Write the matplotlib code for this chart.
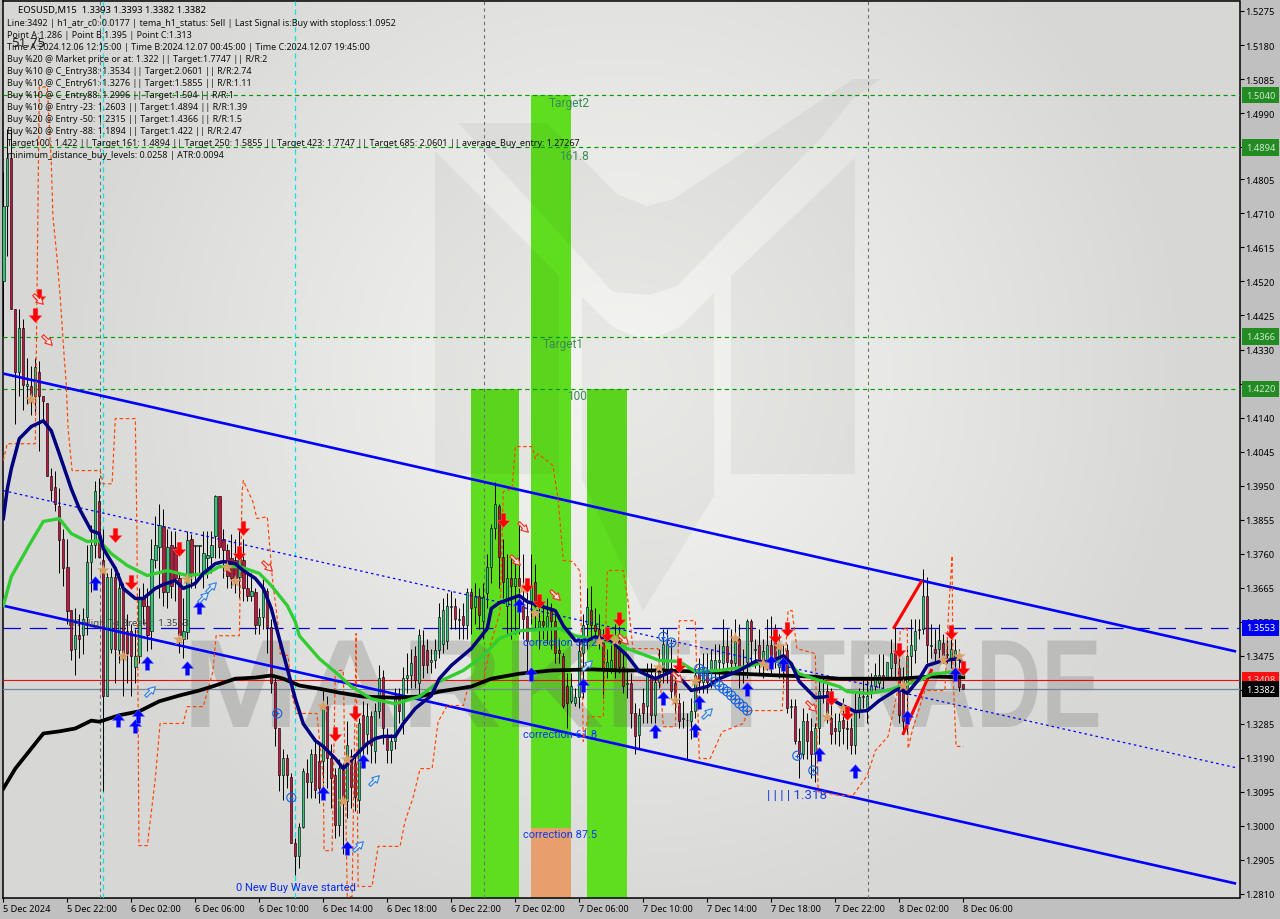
import numpy as np
import matplotlib
matplotlib.use("Agg")
import matplotlib.pyplot as plt
import matplotlib.patheffects as pe
from matplotlib.path import Path
from matplotlib.patches import Polygon, Rectangle
from matplotlib.transforms import Affine2D, blended_transform_factory

plt.rcParams['font.family'] = ['Noto Sans', 'DejaVu Sans']

# candles, one per 15 min bar
opens = [1.4522,1.4731,1.4865,1.4444,1.4268,1.4391,1.4229,1.4229,1.4201,1.4268,
         1.4201,1.4182,1.3978,1.3945,1.3892,1.3802,1.3724,1.3602,1.3493,1.3532,
         1.3532,1.3582,1.3738,1.3783,1.3908,1.3741,1.3364,1.3495,1.3696,1.3490,
         1.3663,1.3543,1.3543,1.3445,1.3473,1.3635,1.3613,1.3543,1.3741,1.3780,
         1.3836,1.3654,1.3783,1.3780,1.3691,1.3523,1.3540,1.3800,1.3781,1.3781,
         1.3710,1.3749,1.3752,1.3808,1.3922,1.3802,1.3769,1.3747,1.3741,1.3696,
         1.3741,1.3663,1.3641,1.3654,1.3560,1.3582,1.3657,1.3554,1.3401,1.3272,
         1.3141,1.3191,1.3136,1.2951,1.2915,1.2998,1.3147,1.3122,1.3202,1.3180,
         1.3180,1.3336,1.3191,1.3141,1.3002,1.3155,1.3069,1.3194,1.3175,1.3071,
         1.3309,1.3258,1.3306,1.3208,1.3322,1.3415,1.3253,1.3211,1.3236,1.3356,
         1.3295,1.3412,1.3420,1.3473,1.3398,1.3504,1.3490,1.3459,1.3462,1.3490,
         1.3509,1.3515,1.3610,1.3613,1.3576,1.3585,1.3560,1.3652,1.3610,1.3641,
         1.3571,1.3649,1.3724,1.3833,1.3894,1.3752,1.3613,1.3693,1.3671,1.3693,
         1.3615,1.3585,1.3627,1.3682,1.3551,1.3571,1.3551,1.3599,1.3571,1.3490,
         1.3473,1.3392,1.3350,1.3342,1.3361,1.3482,1.3565,1.3602,1.3560,1.3549,
         1.3515,1.3440,1.3442,1.3515,1.3515,1.3445,1.3395,1.3398,1.3314,1.3253,
         1.3342,1.3334,1.3420,1.3311,1.3403,1.3440,1.3434,1.3440,1.3398,1.3342,
         1.3298,1.3295,1.3292,1.3322,1.3440,1.3401,1.3434,1.3434,1.3434,1.3459,
         1.3456,1.3501,1.3462,1.3454,1.3523,1.3440,1.3459,1.3571,1.3490,1.3504,
         1.3448,1.3459,1.3504,1.3532,1.3445,1.3468,1.3490,1.3331,1.3334,1.3236,
         1.3202,1.3292,1.3264,1.3202,1.3272,1.3376,1.3378,1.3300,1.3272,1.3264,
         1.3295,1.3272,1.3272,1.3225,1.3322,1.3361,1.3322,1.3378,1.3392,1.3398,
         1.3420,1.3412,1.3440,1.3482,1.3440,1.3417,1.3375,1.3473,1.3490,1.3551,
         1.3551,1.3642,1.3501,1.3495,1.3495,1.3512,1.3476,1.3468,1.3462,1.3431,1.3395]
closes = [1.4731,1.4865,1.4444,1.4268,1.4391,1.4232,1.4235,1.4201,1.4282,1.4201,
          1.4187,1.3978,1.3939,1.3900,1.3797,1.3721,1.3599,1.3490,1.3532,1.3523,
          1.3579,1.3738,1.3783,1.3934,1.3752,1.3364,1.3696,1.3696,1.3493,1.3663,
          1.3476,1.3482,1.3473,1.3473,1.3635,1.3613,1.3532,1.3744,1.3783,1.3841,
          1.3654,1.3780,1.3671,1.3691,1.3532,1.3543,1.3797,1.3705,1.3784,1.3784,
          1.3761,1.3755,1.3783,1.3920,1.3780,1.3769,1.3699,1.3691,1.3691,1.3747,
          1.3663,1.3641,1.3657,1.3560,1.3582,1.3663,1.3554,1.3398,1.3272,1.3141,
          1.3191,1.3141,1.2951,1.2915,1.2998,1.3152,1.3122,1.3202,1.3099,1.3105,
          1.3328,1.3191,1.3133,1.3002,1.3161,1.3069,1.3225,1.3110,1.3082,1.3286,
          1.3225,1.3306,1.3225,1.3322,1.3412,1.3272,1.3211,1.3236,1.3356,1.3320,
          1.3412,1.3420,1.3454,1.3406,1.3532,1.3448,1.3448,1.3462,1.3490,1.3582,
          1.3602,1.3615,1.3613,1.3579,1.3579,1.3560,1.3652,1.3607,1.3641,1.3590,
          1.3638,1.3724,1.3833,1.3900,1.3752,1.3682,1.3691,1.3671,1.3693,1.3671,
          1.3579,1.3515,1.3671,1.3615,1.3571,1.3560,1.3587,1.3571,1.3482,1.3482,
          1.3336,1.3342,1.3392,1.3361,1.3487,1.3560,1.3610,1.3560,1.3543,1.3529,
          1.3442,1.3459,1.3462,1.3442,1.3445,1.3392,1.3398,1.3314,1.3250,1.3309,
          1.3314,1.3420,1.3311,1.3403,1.3448,1.3509,1.3509,1.3376,1.3342,1.3292,
          1.3300,1.3297,1.3322,1.3420,1.3401,1.3445,1.3403,1.3462,1.3462,1.3462,
          1.3501,1.3459,1.3454,1.3515,1.3440,1.3442,1.3571,1.3515,1.3495,1.3462,
          1.3487,1.3504,1.3445,1.3468,1.3504,1.3434,1.3328,1.3334,1.3236,1.3202,
          1.3292,1.3236,1.3202,1.3272,1.3378,1.3378,1.3314,1.3258,1.3266,1.3292,
          1.3272,1.3270,1.3225,1.3322,1.3361,1.3364,1.3364,1.3392,1.3420,1.3420,
          1.3412,1.3459,1.3484,1.3454,1.3309,1.3292,1.3473,1.3504,1.3543,1.3548,
          1.3642,1.3504,1.3504,1.3482,1.3518,1.3476,1.3481,1.3495,1.3490,1.3389,1.3382]
highs = [1.4826,1.4946,1.4946,1.4444,1.4444,1.4416,1.4305,1.4285,1.4305,1.4299,
         1.4201,1.4182,1.3998,1.3992,1.3942,1.3830,1.3802,1.3602,1.3607,1.3593,
         1.3607,1.3783,1.3839,1.3964,1.3970,1.3830,1.3705,1.3719,1.3705,1.3705,
         1.3677,1.3593,1.3565,1.3551,1.3663,1.3677,1.3663,1.3802,1.3864,1.3900,
         1.3886,1.3830,1.3822,1.3822,1.3710,1.3635,1.3822,1.3816,1.3784,1.3784,
         1.3822,1.3822,1.3822,1.3925,1.3922,1.3830,1.3788,1.3816,1.3802,1.3830,
         1.3802,1.3705,1.3705,1.3663,1.3607,1.3696,1.3663,1.3579,1.3412,1.3272,
         1.3216,1.3202,1.3147,1.2965,1.3007,1.3161,1.3188,1.3216,1.3239,1.3230,
         1.3378,1.3364,1.3230,1.3161,1.3188,1.3175,1.3292,1.3216,1.3202,1.3300,
         1.3348,1.3342,1.3322,1.3342,1.3448,1.3434,1.3272,1.3258,1.3384,1.3384,
         1.3445,1.3482,1.3495,1.3501,1.3551,1.3546,1.3523,1.3495,1.3523,1.3621,
         1.3635,1.3649,1.3657,1.3635,1.3607,1.3621,1.3663,1.3663,1.3677,1.3663,
         1.3677,1.3760,1.3844,1.3961,1.3900,1.3802,1.3760,1.3747,1.3747,1.3850,
         1.3760,1.3691,1.3760,1.3732,1.3635,1.3621,1.3635,1.3621,1.3593,1.3523,
         1.3482,1.3426,1.3426,1.3384,1.3523,1.3593,1.3663,1.3671,1.3607,1.3593,
         1.3551,1.3495,1.3523,1.3565,1.3565,1.3482,1.3440,1.3426,1.3342,1.3328,
         1.3384,1.3454,1.3454,1.3440,1.3495,1.3551,1.3551,1.3523,1.3426,1.3370,
         1.3348,1.3314,1.3356,1.3440,1.3468,1.3482,1.3482,1.3495,1.3509,1.3509,
         1.3579,1.3551,1.3551,1.3579,1.3565,1.3495,1.3579,1.3579,1.3523,1.3551,
         1.3523,1.3579,1.3585,1.3565,1.3537,1.3509,1.3509,1.3355,1.3355,1.3272,
         1.3328,1.3314,1.3300,1.3286,1.3412,1.3412,1.3398,1.3384,1.3314,1.3314,
         1.3356,1.3300,1.3300,1.3370,1.3384,1.3412,1.3412,1.3426,1.3454,1.3481,
         1.3481,1.3459,1.3523,1.3557,1.3468,1.3445,1.3495,1.3579,1.3579,1.3579,
         1.3717,1.3696,1.3565,1.3551,1.3565,1.3537,1.3523,1.3523,1.3523,1.3495,1.3395]
lows = [1.4369,1.4592,1.4444,1.4123,1.4201,1.4160,1.4179,1.4146,1.4146,1.4048,
        1.4129,1.3978,1.3906,1.3878,1.3705,1.3671,1.3565,1.3462,1.3420,1.3468,
        1.3479,1.3532,1.3654,1.3747,1.3747,1.3097,1.3364,1.3482,1.3398,1.3454,
        1.3364,1.3398,1.3364,1.3398,1.3454,1.3565,1.3487,1.3495,1.3719,1.3635,
        1.3615,1.3607,1.3635,1.3627,1.3482,1.3468,1.3523,1.3663,1.3663,1.3691,
        1.3663,1.3691,1.3705,1.3747,1.3747,1.3691,1.3663,1.3663,1.3649,1.3635,
        1.3627,1.3627,1.3627,1.3537,1.3537,1.3551,1.3482,1.3370,1.3222,1.3097,
        1.3071,1.3105,1.2951,1.2862,1.2882,1.2993,1.3077,1.3077,1.3077,1.3063,
        1.3119,1.3105,1.3049,1.2965,1.2971,1.2923,1.3021,1.3049,1.3041,1.3035,
        1.3161,1.3202,1.3175,1.3175,1.3300,1.3230,1.3175,1.3175,1.3216,1.3286,
        1.3258,1.3370,1.3384,1.3384,1.3356,1.3412,1.3426,1.3426,1.3440,1.3468,
        1.3482,1.3495,1.3551,1.3551,1.3523,1.3523,1.3523,1.3537,1.3565,1.3551,
        1.3523,1.3607,1.3677,1.3802,1.3663,1.3635,1.3537,1.3523,1.3537,1.3537,
        1.3523,1.3431,1.3565,1.3551,1.3495,1.3523,1.3509,1.3495,1.3454,1.3454,
        1.3328,1.3272,1.3342,1.3334,1.3328,1.3356,1.3495,1.3523,1.3523,1.3495,
        1.3356,1.3412,1.3426,1.3412,1.3426,1.3370,1.3356,1.3272,1.3202,1.3216,
        1.3286,1.3286,1.3286,1.3286,1.3384,1.3398,1.3398,1.3356,1.3314,1.3272,
        1.3272,1.3186,1.3244,1.3300,1.3370,1.3370,1.3370,1.3384,1.3398,1.3412,
        1.3426,1.3440,1.3426,1.3440,1.3384,1.3398,1.3412,1.3454,1.3440,1.3426,
        1.3412,1.3434,1.3426,1.3440,1.3412,1.3398,1.3314,1.3300,1.3230,1.3133,
        1.3188,1.3188,1.3133,1.3124,1.3230,1.3342,1.3286,1.3230,1.3230,1.3222,
        1.3230,1.3216,1.3202,1.3202,1.3300,1.3328,1.3286,1.3356,1.3370,1.3384,
        1.3384,1.3412,1.3412,1.3412,1.3286,1.3258,1.3258,1.3412,1.3454,1.3523,
        1.3537,1.3454,1.3468,1.3454,1.3468,1.3454,1.3454,1.3440,1.3426,1.3378,1.3382]

# slow and fast moving averages, read at these bars
navy_bars = [0,1,2,4,7,10,12,14,17,19,22,24,25,28,30,33,35,38,40,43,45,48,50,53,55,58,60,63,65,67,69,71,73,75,78,80,83,85,88,91,93,95,98,100,103,107,109,112,117,121,122,124,129,131,134,138,140,143,146,148,152,156,159,163,167,170,172,176,179,184,188,192,195,197,199,203,206,209,213,216,219,223,224,226,229,231,235,239,240]
navy_vals = [1.3858,1.3941,1.3997,1.4081,1.4115,1.4131,1.4103,1.4039,1.3941,1.3886,1.3824,1.3816,1.3774,1.3719,1.3663,1.3635,1.3635,1.3663,1.3674,1.3685,1.3663,1.3677,1.3705,1.3732,1.3738,1.3732,1.3713,1.3691,1.3663,1.3607,1.3523,1.3439,1.3355,1.3285,1.3238,1.3222,1.3188,1.3160,1.3196,1.3230,1.3244,1.3250,1.3250,1.3286,1.3328,1.3364,1.3411,1.3448,1.3495,1.3551,1.3607,1.3623,1.3643,1.3626,1.3615,1.3601,1.3559,1.3517,1.3517,1.3528,1.3517,1.3475,1.3431,1.3411,1.3431,1.3403,1.3378,1.3389,1.3411,1.3434,1.3459,1.3459,1.3475,1.3453,1.3403,1.3358,1.3361,1.3341,1.3319,1.3322,1.3350,1.3378,1.3383,1.3370,1.3411,1.3448,1.3462,1.3467,1.3453]
green_bars = [0,2,7,10,14,17,21,24,27,31,36,41,46,51,54,59,64,67,71,73,74,79,84,87,92,98,104,109,115,120,124,129,139,143,151,158,164,169,173,179,186,191,196,199,204,209,211,216,221,224,229,232,238,240]
green_vals = [1.3615,1.3696,1.3794,1.3850,1.3858,1.3816,1.3794,1.3796,1.3760,1.3727,1.3699,1.3713,1.3699,1.3705,1.3724,1.3724,1.3705,1.3671,1.3615,1.3570,1.3531,1.3467,1.3420,1.3389,1.3355,1.3341,1.3361,1.3403,1.3434,1.3475,1.3523,1.3545,1.3551,1.3531,1.3515,1.3487,1.3462,1.3459,1.3431,1.3434,1.3445,1.3459,1.3459,1.3425,1.3406,1.3389,1.3375,1.3370,1.3378,1.3389,1.3406,1.3423,1.3431,1.3423]
black_bars = [0,3,7,10,14,18,22,24,29,34,39,44,49,53,58,63,67,70,74,79,84,90,98,104,109,117,122,129,137,147,154,164,174,184,194,202,209,217,224,232,240]
black_vals = [1.3104,1.3160,1.3216,1.3258,1.3264,1.3272,1.3294,1.3291,1.3309,1.3320,1.3348,1.3364,1.3378,1.3392,1.3411,1.3414,1.3420,1.3411,1.3392,1.3383,1.3372,1.3361,1.3358,1.3361,1.3375,1.3389,1.3411,1.3425,1.3434,1.3437,1.3434,1.3434,1.3431,1.3425,1.3420,1.3417,1.3411,1.3411,1.3411,1.3417,1.3415]

# orange dashed stop line
stop_bars = [0,1,8,9,11,12,12.4,13.4,14.2,15.2,15.7,16.2,17.2,24.2,25,27.2,28,33,33.4,33.7,33.9,36,38,39.2,45,46,50,52.4,53.2,59,59.7,60,62.4,63.4,66,67.2,68.7,69.2,71.2,72.2,73.4,78.4,80,80.2,82.2,83,85,86,87.2,88.2,88.7,92.2,93.7,99.2,100.4,102.4,104.2,107.2,108.7,111,115,116.2,120,121.7,124.2,125,127.2,128,132.2,133,133.7,137.4,138.7,140,142.4,144.2,145,146.2,150,151,155,156.2,157.4,163.7,165,168,169,173,174,176.7,179.7,185,186.2,194.7,196.2,197.2,198.4,203,203.7,209.2,212.4,216,218,221.2,223.7,224.2,226,226.2,227.4,230.4,235.4,236.4,237.2,237.4,238.2,240]
stop_vals = [1.4020,1.4067,1.4067,1.5063,1.5063,1.4854,1.4703,1.4589,1.4480,1.4313,1.4240,1.4109,1.3992,1.3992,1.3955,1.3955,1.4137,1.4137,1.3830,1.3319,1.2945,1.2945,1.3132,1.3286,1.3286,1.3333,1.3333,1.3431,1.3531,1.3531,1.3933,1.3964,1.3905,1.3858,1.3863,1.3699,1.3559,1.3481,1.3475,1.3364,1.3314,1.3314,1.3132,1.2931,1.2931,1.3434,1.3434,1.2803,1.2803,1.3537,1.2831,1.2831,1.2943,1.2943,1.3012,1.3077,1.3160,1.3160,1.3291,1.3336,1.3336,1.3389,1.3403,1.3503,1.3598,1.3933,1.3941,1.4059,1.4059,1.4025,1.4039,1.4006,1.3913,1.3741,1.3738,1.3710,1.3236,1.3305,1.3305,1.3713,1.3713,1.3626,1.3495,1.3495,1.3277,1.3277,1.3573,1.3573,1.3188,1.3188,1.3263,1.3286,1.3322,1.3322,1.3601,1.3601,1.3495,1.3481,1.3096,1.3085,1.3085,1.3141,1.3210,1.3250,1.3383,1.3542,1.3556,1.3216,1.3272,1.3378,1.3378,1.3615,1.3754,1.3431,1.3222,1.3222]

# signal markers: bar, price
buy_bars = [23,28.7,33,33.7,36,46,49,80,86,90,129,132,145,163,165,173,174,186,192,195,204,213,226,238]
buy_vals = [1.3679,1.3297,1.3278,1.3308,1.3456,1.3442,1.3612,1.3093,1.2937,1.3180,1.3618,1.3423,1.3394,1.3266,1.3358,1.3269,1.3347,1.3383,1.3459,1.3453,1.3202,1.3152,1.3305,1.3423]
sell_bars = [9,8,28,32,44,60,59,83,88,125,131,134,154,151,169,193,196,207,211,224,237,240]
sell_vals = [1.4480,1.4427,1.3813,1.3682,1.3774,1.3833,1.3763,1.3258,1.3314,1.3855,1.3673,1.3629,1.3579,1.3537,1.3448,1.3531,1.3551,1.3358,1.3314,1.3490,1.3540,1.3442]
hollow_buy_bars = [36.7,50,52,92.7,88.7,146,176]
hollow_buy_vals = [1.3378,1.3640,1.3668,1.3127,1.2943,1.3448,1.3314]
hollow_sell_bars = [11,8.7,66,130,128,138,155,168.5,202]
hollow_sell_vals = [1.4357,1.4471,1.3727,1.3835,1.3741,1.3646,1.3523,1.3417,1.3336]
star_bars = [25,30,44,46,56,58,80,86,85,7,130,133,149,153,164,168,173,183,191,190,194,206,210,225,235,239]
star_vals = [1.3713,1.3473,1.3520,1.3688,1.3721,1.3682,1.3333,1.3185,1.3068,1.4190,1.3662,1.3593,1.3515,1.3517,1.3442,1.3350,1.3403,1.3523,1.3445,1.3453,1.3501,1.3303,1.3328,1.3392,1.3462,1.3473]
ring_bars = [68.5,72,165,167,198.5,202.5,174,175,176,178,179,180,181,182,183,184,185,186]
ring_vals = [1.3314,1.3079,1.3528,1.3512,1.3196,1.3155,1.3439,1.3431,1.3420,1.3403,1.3392,1.3383,1.3375,1.3364,1.3353,1.3342,1.3333,1.3322]

# channel lines: bar ends and prices
channel_bars = [-0.1, 308.2]
channel_top = [1.4263, 1.3487]
channel_bottom = [1.3615, 1.2839]
channel_mid_bars = [0, 308]
channel_mid = [1.3936, 1.3163]
wave_up_bars = [222.7, 229.5]
wave_up_vals = [1.3554, 1.3682]
wave_down_bars = [225, 232]
wave_down_vals = [1.3258, 1.3434]

# price levels
target_levels = [1.5040, 1.4894, 1.4366, 1.4220]
break_level = 1.3553
ask_level = 1.3408
bid_level = 1.3382

# fibo boxes: first bar, last bar, top price, bottom price
box_starts = [117, 132, 146]
box_ends = [129, 142, 156]
box_tops = [1.4220, 1.5040, 1.4220]
box_bottoms = [1.2, 1.2995, 1.2]
correction_bottom = 1.2995

ytick_vals = [1.5275,1.5180,1.5085,1.4990,1.4895,1.4805,1.4710,1.4615,1.4520,1.4425,1.4330,1.4235,1.4140,1.4045,1.3950,1.3855,1.3760,1.3665,1.3570,1.3475,1.3380,1.3285,1.3190,1.3095,1.3000,1.2905,1.2810]
xtick_bars = [0,16,32,48,64,80,96,112,128,144,160,176,192,208,224,240]
xtick_labels = ['5 Dec 2024','5 Dec 22:00','6 Dec 02:00','6 Dec 06:00','6 Dec 10:00','6 Dec 14:00','6 Dec 18:00','6 Dec 22:00','7 Dec 02:00','7 Dec 06:00','7 Dec 10:00','7 Dec 14:00','7 Dec 18:00','7 Dec 22:00','8 Dec 02:00','8 Dec 06:00']

info_lines = [
    'Line:3492 | h1_atr_c0: 0.0177 | tema_h1_status: Sell | Last Signal is:Buy with stoploss:1.0952',
    'Point A:1.286 | Point B:1.395 | Point C:1.313',
    'Time A:2024.12.06 12:15:00 | Time B:2024.12.07 00:45:00 | Time C:2024.12.07 19:45:00',
    'Buy %20 @ Market price or at: 1.322 || Target:1.7747 || R/R:2',
    'Buy %10 @ C_Entry38: 1.3534 || Target:2.0601 || R/R:2.74',
    'Buy %10 @ C_Entry61: 1.3276 || Target:1.5855 || R/R:1.11',
    'Buy %10 @ C_Entry88: 1.2996 || Target:1.504 || R/R:1',
    'Buy %10 @ Entry -23: 1.2603 || Target:1.4894 || R/R:1.39',
    'Buy %20 @ Entry -50: 1.2315 || Target:1.4366 || R/R:1.5',
    'Buy %20 @ Entry -88: 1.1894 || Target:1.422 || R/R:2.47',
    'Target100: 1.422 || Target 161: 1.4894 || Target 250: 1.5855 || Target 423: 1.7747 || Target 685: 2.0601 || average_Buy_entry: 1.27267',
    'minimum_distance_buy_levels: 0.0258 | ATR:0.0094',
]


class Stretch(pe.AbstractPathEffect):
    # widen or narrow a text around x0, the watermark letters are not a normal width
    def __init__(self, x0, sx):
        super().__init__()
        self.x0 = x0
        self.sx = sx

    def draw_path(self, renderer, gc, tpath, affine, rgbFace=None):
        stretch = Affine2D().translate(-self.x0, 0).scale(self.sx, 1).translate(self.x0, 0)
        renderer.draw_path(gc, tpath, affine + stretch, rgbFace)


fig = plt.figure(figsize=(12.8, 9.2), dpi=100, facecolor='#c0c0c0')
ax = fig.add_axes([3 / 1280, 21 / 920, 1236.5 / 1280, 897 / 920])
# pixel coordinates of the picture, only for layout of overlays
px = Affine2D().scale(1, -1).translate(0, 920)

# background gradient, brightest behind the logo
yy, xx = np.mgrid[0:1:200j, 0:1:260j]
dist = np.sqrt(((xx - 0.5) / 0.46)**2 + ((yy - 0.42) / 0.62)**2)
shade = 0.955 - 0.11 * np.clip(dist, 0, 1)**1.2
ax.imshow(np.dstack([shade, shade, shade * 0.99]), extent=(0, 1, 0, 1), transform=ax.transAxes,
          aspect='auto', zorder=0)

# fibo boxes
for start, end, top, bottom in zip(box_starts, box_ends, box_tops, box_bottoms):
    ax.add_patch(Rectangle((start, bottom), end - start, top - bottom, facecolor='#5ede1e', edgecolor='none', zorder=1))
ax.add_patch(Rectangle((box_starts[1], 1.2), box_ends[1] - box_starts[1], correction_bottom - 1.2,
                       facecolor='#e69f6d', edgecolor='none', zorder=1))

# logo behind the chart
logo_shapes = [
    [(435, 152), (559, 277), (559, 475), (435, 475)],
    [(731, 277), (855, 159), (855, 475), (731, 475)],
    [(582, 298), (613, 328), (647, 342), (680, 328), (714, 294), (714, 497), (643, 612), (582, 480)],
    [(458, 124), (547, 124), (617, 195), (647, 207), (673, 200), (853, 80), (880, 80), (853, 100), (820, 140), (677, 287), (650, 296), (613, 293)],
]
for shape in logo_shapes:
    ax.add_patch(Polygon(shape, closed=True, transform=px, facecolor='#303030', alpha=0.055, edgecolor='none', zorder=2))
ax.text(182, 728, 'MARKET', transform=px, fontsize=90.5, family='Liberation Sans', weight='bold', color='#606060', alpha=0.24,
        va='baseline', ha='left', zorder=2, path_effects=[Stretch(182, 1.12)])
ax.text(790, 728, 'TRADE', transform=px, fontsize=90.5, family='Liberation Sans', weight='bold', color='#606060', alpha=0.24,
        va='baseline', ha='left', zorder=2, path_effects=[Stretch(790, 0.72)])

# levels and session lines
for level in target_levels:
    ax.axhline(level, color='#009a00', lw=0.85, ls=(0, (3.5, 3)), zorder=3)
ax.axhline(break_level, color='#0000e0', lw=0.9, ls=(0, (14, 7)), zorder=3)
ax.axhline(ask_level, color='#e01010', lw=0.8, zorder=3)
ax.axhline(bid_level, color='#778899', lw=0.9, zorder=3)
for bar in [24.2, 120.2, 216.2]:
    ax.axvline(bar, color='#707070', lw=0.8, ls=(0, (3, 3)), zorder=3)
for bar in [25, 73]:
    ax.axvline(bar, color='#00e5e5', lw=0.9, ls=(0, (4, 3)), zorder=3)

# candles
bars = np.arange(len(opens))
o = np.array(opens)
c = np.array(closes)
ax.vlines(bars, lows, highs, color='black', lw=0.7, zorder=5)
body_colors = np.where(c >= o, '#30c878', '#c8143c')
ax.bar(bars, np.maximum(np.abs(c - o), 0.0002), bottom=np.minimum(o, c), width=0.6, color=body_colors,
       edgecolor='black', linewidth=0.42, zorder=6)

# channels
ax.plot(channel_bars, channel_top, color='#0000ff', lw=1.9, zorder=7, solid_capstyle='butt')
ax.plot(channel_bars, channel_bottom, color='#0000ff', lw=1.9, zorder=7, solid_capstyle='butt')
ax.plot(channel_mid_bars, channel_mid, color='#0000ff', lw=0.9, ls=(0, (2, 2.5)), zorder=7)
ax.plot(wave_up_bars, wave_up_vals, color='#ff0000', lw=2.2, zorder=7)
ax.plot(wave_down_bars, wave_down_vals, color='#ff0000', lw=2.2, zorder=7)

# orange stop line
ax.plot(stop_bars, stop_vals, color='#ff4500', lw=0.85, ls=(0, (3, 2.2)), zorder=8)

# moving averages
ax.plot(black_bars, black_vals, color='black', lw=2.7, zorder=9)
ax.plot(green_bars, green_vals, color='#32cd32', lw=2.4, zorder=9)
ax.plot(navy_bars, navy_vals, color='#000080', lw=2.5, zorder=10)

# markers
arrow = Path([(-0.33, -1), (0.33, -1), (0.33, 0), (0.9, 0), (0, 1), (-0.9, 0), (-0.33, 0), (-0.33, -1)], closed=True)
arrow_down = arrow.transformed(Affine2D().scale(1, -1))
hollow_up = arrow.transformed(Affine2D().scale(0.65, 1.05).rotate_deg(-45))
hollow_down = arrow.transformed(Affine2D().scale(0.65, 1.05).rotate_deg(135 + 90))
ax.scatter(buy_bars, buy_vals, marker=arrow, s=100, color='#0000ff', edgecolors='#8080ff', linewidths=0.3, zorder=12)
ax.scatter(sell_bars, sell_vals, marker=arrow_down, s=110, color='#ff0000', edgecolors='#ff8080', linewidths=0.3, zorder=12)
ax.scatter(hollow_buy_bars, hollow_buy_vals, marker=hollow_up, s=70, facecolors='#e4e4ee', edgecolors='#2a80e0', linewidths=0.8, zorder=12)
ax.scatter(hollow_sell_bars, hollow_sell_vals, marker=hollow_down, s=70, facecolors='#f4e0e0', edgecolors='#f03020', linewidths=0.8, zorder=12)
ax.scatter(star_bars, star_vals, marker='*', s=95, color='#d9a066', edgecolors='none', zorder=11)
ax.scatter(ring_bars, ring_vals, marker='o', s=42, facecolors='none', edgecolors='#1060e0', linewidths=0.8, zorder=11)
ax.scatter(ring_bars, ring_vals, marker='+', s=12, color='#1060e0', linewidths=0.8, zorder=11)

# labels on the chart
ax.text(549, 104, 'Target2', transform=px, fontsize=8.6, color='#3a8a55', va='center', family='Roboto', zorder=13)
ax.text(559, 157, '161.8', transform=px, fontsize=8.6, color='#3a8a55', va='center', family='Roboto', zorder=13)
ax.text(543, 345, 'Target1', transform=px, fontsize=8.6, color='#3a8a55', va='center', family='Roboto', zorder=13)
ax.text(567, 397, '100', transform=px, fontsize=8.6, color='#3a8a55', va='center', family='Roboto', zorder=13)
ax.text(523, 643, 'correction 38.2', transform=px, fontsize=7.9, color='#0a3cf0', va='center', family='Roboto', zorder=13)
ax.text(523, 735, 'correction 61.8', transform=px, fontsize=7.9, color='#0a3cf0', va='center', family='Roboto', zorder=13)
ax.text(523, 835, 'correction 87.5', transform=px, fontsize=7.9, color='#0a3cf0', va='center', family='Roboto', zorder=13)
ax.text(236, 888, '0 New Buy Wave started', transform=px, fontsize=8.0, color='#0a2cf0', va='center', family='Roboto', zorder=13)
ax.text(767, 796, '| | | | 1.318', transform=px, fontsize=9.6, color='#2040e0', va='center', family='Roboto', zorder=13)
ax.text(68, 624, 'H1 High To Break :  1.3553', transform=px, fontsize=7, color='#444444', va='center', zorder=13)
ax.text(11, 44, '51.75', transform=px, fontsize=9.5, color='#202020', va='center', zorder=13)
ax.text(18, 11, 'EOSUSD,M15  1.3393 1.3393 1.3382 1.3382', transform=px, fontsize=6.8, color='black', va='center', zorder=14)
for i, line in enumerate(info_lines):
    ax.text(7, 24 + 12 * i, line, transform=px, fontsize=6.45, color='#101010', va='center', zorder=14)

# axes
ax.set_xlim(-0.075, 309.05)
ax.set_ylim(1.27988, 1.53029)
ax.yaxis.tick_right()
ax.set_yticks(ytick_vals)
ax.set_yticklabels(['%.4f' % v for v in ytick_vals], fontsize=6.7)
ax.set_xticks(xtick_bars)
ax.set_xticklabels(xtick_labels, fontsize=6.6, ha='left')
ax.tick_params(axis='y', length=3, width=0.8, pad=1, colors='black')
ax.tick_params(axis='x', length=3, width=0.8, pad=1.5, colors='black')
for spine in ax.spines.values():
    spine.set_linewidth(1.1)

# price tags over the axis labels
tag_tf = blended_transform_factory(px, ax.transData)
tags = [(1.5040, '#228b22', '#cfe8cf'), (1.4894, '#228b22', '#cfe8cf'), (1.4366, '#228b22', '#cfe8cf'), (1.4220, '#228b22', '#cfe8cf'),
        (break_level, '#0000ee', 'white'), (ask_level, '#ff1010', '#f0d0d0'), (bid_level, 'black', 'white')]
for level, bg, fg in tags:
    ax.text(1246, level, '%.4f' % level, transform=tag_tf, fontsize=6.7, color=fg, va='center', ha='left', zorder=20, clip_on=False,
            bbox=dict(boxstyle='square,pad=0.4', facecolor=bg, edgecolor='none'))

fig.savefig('out.png', dpi=100, facecolor=fig.get_facecolor())
